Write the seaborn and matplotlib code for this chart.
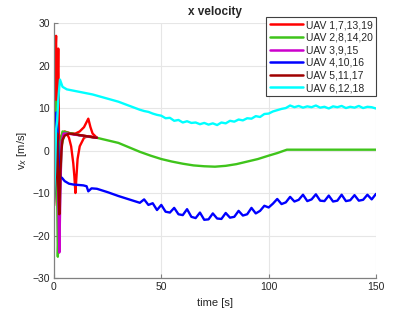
import matplotlib
matplotlib.use("Agg")
import matplotlib.pyplot as plt
import seaborn as sns

# time [s] and x velocity [m/s]
red_a_t = [0, 0.5, 1.0, 1.3, 1.6, 2.0, 2.3, 2.7, 3.2, 4, 5, 6, 8, 10, 12, 14, 15, 16, 17, 18, 20]
red_a_v = [12, 20, 27, -5, 10, 24, 5, -10, 2, 4, 4.5, 4.3, 4, 4, 4.5, 5.5, 6.5, 7.5, 5.5, 4, 3.0]
red_b_t = [0, 0.8, 1.5, 2, 3, 4, 5, 6, 7, 8, 9, 9.5, 10, 10.5, 11, 12, 14, 16, 20]
red_b_v = [-13, 5, -10, 0, 3, 4, 4.2, 4, 3, 1, -3, -6, -10, -6, -2, 1, 3, 3.4, 3.0]
red_c_t = [0, 0.3, 0.6, 0.9, 1.2, 1.4, 1.7, 1.9, 2.2, 2.4, 3, 4, 6, 10, 20]
red_c_v = [5, 21, 12, 24, 8, 3, 20, 18, 6, -4, 1, 3.5, 4.2, 3.8, 3.0]

green_a_t = [0, 0.5, 0.9, 1.2, 1.5, 1.8, 2.1, 2.6, 3, 4, 6, 10, 15, 20, 30, 40, 45, 50,
             55, 60, 65, 70, 75, 80, 85, 90, 95, 100, 104, 108.5, 150]
green_a_v = [0, 8, 11.5, 10, -10, -25, -20, -5, 2, 4.5, 4.2, 3.8, 3.3, 3.0, 1.8, -0.3, -1.2, -2.0,
             -2.6, -3.1, -3.5, -3.7, -3.8, -3.6, -3.2, -2.6, -2.0, -1.2, -0.6, 0.2, 0.2]
green_b_t = [0, 0.6, 1.1, 1.6, 2.2, 2.8, 3.5, 5, 8, 12]
green_b_v = [2, 10, 11, 4, -24, -12, 1, 4.3, 4.0, 3.6]

magenta_t = [0, 1, 1.8, 2.5, 3, 3.5, 4.5, 6, 20]
magenta_v = [0, 8, -5, -24, -10, 2, 4, 4, 3.0]

blue_t = [0, 0.7, 1.2, 1.8, 2.3, 3, 3.7, 5, 7, 9, 13.7, 15.2, 16, 17.5, 20, 25, 30, 35,
          40, 42, 44, 46, 48, 50, 52, 54, 56, 58, 60, 62, 64, 66, 68, 70, 72, 74, 76, 78,
          80, 82, 84, 86, 88, 90, 92, 94, 96, 98, 100, 102, 104, 106, 108, 110, 112, 114,
          116, 118, 120, 122, 124, 126, 128, 130, 132, 134, 136, 138, 140, 142, 144, 146, 148, 150]
blue_v = [-3, 5, 9, 3, -3, -6.5, -6.4, -7.2, -7.8, -8.0, -8.2, -8.4, -9.6, -8.9, -9.0, -9.8, -10.7, -11.5,
          -12.3, -11.5, -12.8, -12.4, -14.0, -12.8, -14.4, -14.6, -13.5, -15.0, -15.2, -13.8, -15.6, -15.9, -14.6, -16.3, -16.2, -14.8, -16.0, -16.1,
          -14.7, -15.8, -15.6, -14.2, -15.3, -15.0, -13.5, -14.8, -14.2, -13.0, -13.4, -12.5, -11.4, -12.6, -12.2, -10.9, -12.0, -11.6,
          -10.4, -11.9, -11.5, -10.3, -11.8, -11.9, -10.6, -12.0, -11.8, -10.4, -11.9, -11.7, -10.5, -11.8, -11.6, -10.4, -11.5, -10.2]

darkred_t = [0, 1, 1.5, 2, 2.5, 3, 3.5, 4, 5, 7, 10, 20]
darkred_v = [-13, -5, 4, -8, -15, -5, 0, 2.5, 3.5, 4, 3.8, 3.0]

cyan_t = [0, 0.5, 1, 1.5, 2, 2.8, 4, 6, 10, 18, 30,
          40, 42, 44, 46, 48, 50, 52, 54, 56, 58, 60, 62, 64, 66, 68, 70, 72, 74, 76, 78,
          80, 82, 84, 86, 88, 90, 92, 94, 96, 98, 100, 102, 104, 106, 108, 110, 112, 114,
          116, 118, 120, 122, 124, 126, 128, 130, 132, 134, 136, 138, 140, 142, 144, 146, 148, 150]
cyan_v = [-12, -5, 5, 7, 12, 16.7, 15, 14.4, 14, 13.2, 11.5,
          9.6, 9.3, 9.1, 8.7, 8.4, 8.2, 7.6, 7.7, 7.0, 7.2, 6.6, 6.9, 6.5, 6.6, 6.2, 6.5, 6.1, 6.4, 6.0, 6.6,
          6.4, 7.0, 6.8, 7.3, 7.1, 7.6, 7.5, 8.1, 7.9, 8.6, 8.7, 9.2, 9.5, 9.8, 10.0, 10.6, 10.2, 10.5,
          10.1, 10.4, 10.2, 10.6, 10.1, 10.3, 9.9, 10.4, 10.2, 10.5, 10.0, 10.3, 10.1, 10.5, 10.0, 10.3, 10.2, 9.9]

labels = ["UAV 1,7,13,19", "UAV 2,8,14,20", "UAV 3,9,15", "UAV 4,10,16", "UAV 5,11,17", "UAV 6,12,18"]
colors = ["#ff0000", "#3fc41b", "#cc00cc", "#0000ff", "#a00000", "#00ffff"]

series = [
    (0, [(red_a_t, red_a_v), (red_b_t, red_b_v), (red_c_t, red_c_v)]),
    (1, [(green_b_t, green_b_v), (green_a_t, green_a_v)]),
    (2, [(magenta_t, magenta_v)]),
    (3, [(blue_t, blue_v)]),
    (4, [(darkred_t, darkred_v)]),
    (5, [(cyan_t, cyan_v)]),
]

sns.set_style("whitegrid")
plt.rcParams["font.family"] = ["Liberation Sans", "DejaVu Sans"]

fig = plt.figure(figsize=(4.15, 3.12), dpi=100)
ax = fig.add_axes([0.130, 0.109, 0.776, 0.817])

for idx, curves in series:
    for k, (t, v) in enumerate(curves):
        sns.lineplot(x=t, y=v, ax=ax, color=colors[idx], linewidth=1.7,
                     label=labels[idx] if k == 0 else None, sort=False, estimator=None)

ax.set_xlim(0, 150)
ax.set_ylim(-30, 30)
ax.set_xticks([0, 50, 100, 150])
ax.set_yticks([-30, -20, -10, 0, 10, 20, 30])
ax.grid(True, color="#e6e6e6", linewidth=0.8)
for s in ["top", "right"]:
    ax.spines[s].set_visible(False)
for s in ["left", "bottom"]:
    ax.spines[s].set_color("#808080")
    ax.spines[s].set_linewidth(0.9)
ax.tick_params(direction="in", length=3, labelsize=7.5, colors="#262626",
               left=True, bottom=True, pad=3)
ax.tick_params(axis="both", color="#808080")

ax.set_title("x velocity", fontsize=8.5, fontweight="bold", pad=6)
ax.set_xlabel("time [s]", fontsize=8, color="#262626")
ax.set_ylabel("v$_x$ [m/s]", fontsize=8, color="#262626", labelpad=2)

leg = ax.legend(loc="upper right", bbox_to_anchor=(1.0, 1.024), fontsize=7.5,
                frameon=True, fancybox=False, framealpha=1, edgecolor="#404040",
                handlelength=3.2, handletextpad=0.3, labelspacing=0.25, borderpad=0.3,
                borderaxespad=0)
leg.get_frame().set_linewidth(0.8)
for line in leg.get_lines():
    line.set_linewidth(1.8)

fig.savefig("out.png", dpi=100)
